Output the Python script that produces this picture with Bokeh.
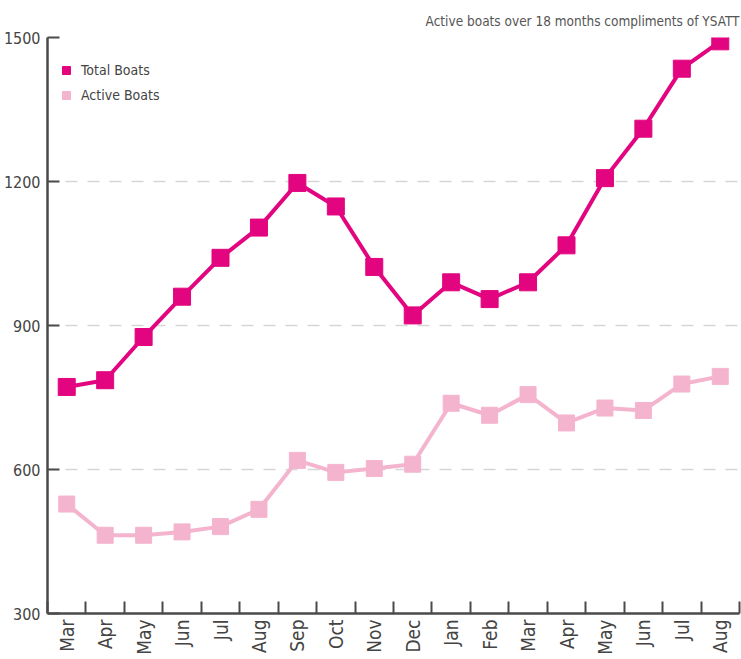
from bokeh.plotting import figure
from bokeh.models import FixedTicker, Range1d, Legend, LegendItem, ColumnDataSource
from bokeh.embed import file_html
from bokeh.resources import INLINE
import math

months = ["Mar", "Apr", "May", "Jun", "Jul", "Aug", "Sep", "Oct", "Nov", "Dec",
          "Jan", "Feb", "Mar", "Apr", "May", "Jun", "Jul", "Aug"]
total_boats = [772, 786, 876, 960, 1041, 1104, 1197, 1148, 1022, 921,
               990, 955, 990, 1067, 1207, 1310, 1435, 1492]
active_boats = [528, 463, 463, 470, 481, 517, 619, 594, 602, 611,
                738, 713, 756, 697, 728, 723, 778, 794]
y_ticks = [300, 600, 900, 1200, 1500]
title_text = "Active boats over 18 months compliments of YSATT"

FONT = "'DejaVu Sans Condensed', 'Roboto', sans-serif"
TOTAL_C = "#e2057f"
ACTIVE_C = "#f4b4cd"
AXIS_C = "#4a4a4a"
TEXT_C = "#444444"

xs = [i + 0.5 for i in range(len(months))]
src = ColumnDataSource(dict(x=xs, total=total_boats, active=active_boats))

p = figure(width=741, height=659, output_backend="svg", toolbar_location=None,
           x_range=Range1d(0, 18), y_range=Range1d(300, 1500),
           min_border_left=47, min_border_right=2, min_border_top=37,
           min_border_bottom=46)
p.outline_line_color = None
p.background_fill_color = "white"
p.border_fill_color = "white"

p.title.text = title_text
p.title.align = "right"
p.title.text_font = FONT
p.title.text_font_size = "13.5px"
p.title.text_font_style = "normal"
p.title.text_color = "#555555"
p.title.offset = 0
p.title.standoff = 18

# lines and markers
p.line("x", "active", source=src, line_color=ACTIVE_C, line_width=4)
p.scatter("x", "active", source=src, marker="square", size=16,
          fill_color=ACTIVE_C, line_color=ACTIVE_C)
p.line("x", "total", source=src, line_color=TOTAL_C, line_width=4)
p.scatter("x", "total", source=src, marker="square", size=17,
          fill_color=TOTAL_C, line_color=TOTAL_C)

# legend with small square swatches
leg_total = p.scatter(x=[float("nan")], y=[float("nan")], marker="square",
                      fill_color=TOTAL_C, line_color=TOTAL_C)
leg_active = p.scatter(x=[float("nan")], y=[float("nan")], marker="square",
                       fill_color=ACTIVE_C, line_color=ACTIVE_C)
legend = Legend(items=[LegendItem(label="Total Boats", renderers=[leg_total]),
                       LegendItem(label="Active Boats", renderers=[leg_active])],
                location=(9, 508))
legend.margin = 0
legend.padding = 5
legend.spacing = 5
legend.glyph_width = 20
legend.glyph_height = 20
legend.label_standoff = 5
legend.label_text_font = FONT
legend.label_text_font_size = "14px"
legend.label_text_color = TEXT_C
legend.border_line_color = None
legend.background_fill_alpha = 0
p.add_layout(legend, "center")

# x axis: labels at category centers, ticks at category boundaries
p.xaxis.ticker = FixedTicker(ticks=xs, minor_ticks=list(range(0, 19)))
p.xaxis.major_label_overrides = {x: m for x, m in zip(xs, months)}
p.xaxis.major_label_orientation = math.pi / 2
p.xaxis.major_tick_line_color = None
p.xaxis.major_tick_in = 0
p.xaxis.major_tick_out = 0
p.xaxis.minor_tick_in = 12
p.xaxis.minor_tick_out = 0
p.xaxis.minor_tick_line_color = AXIS_C
p.xaxis.minor_tick_line_width = 2
p.xaxis.axis_line_color = AXIS_C
p.xaxis.axis_line_width = 2.5
p.xaxis.major_label_text_font = FONT
p.xaxis.major_label_text_font_size = "19px"
p.xaxis.major_label_text_color = TEXT_C
p.xaxis.major_label_standoff = 6

# y axis
p.yaxis.ticker = FixedTicker(ticks=y_ticks)
p.yaxis.minor_tick_line_color = None
p.yaxis.major_tick_in = 12
p.yaxis.major_tick_out = 0
p.yaxis.major_tick_line_color = AXIS_C
p.yaxis.major_tick_line_width = 2
p.yaxis.axis_line_color = AXIS_C
p.yaxis.axis_line_width = 2.5
p.yaxis.major_label_text_font = FONT
p.yaxis.major_label_text_font_size = "16px"
p.yaxis.major_label_text_color = TEXT_C
p.yaxis.major_label_standoff = 7

p.xgrid.grid_line_color = None
p.ygrid.ticker = FixedTicker(ticks=y_ticks[1:])
p.ygrid.grid_line_color = "#d6d6d6"
p.ygrid.grid_line_width = 1.5
p.ygrid.grid_line_dash = "12 10"
p.ygrid.grid_line_dash_offset = -18

open("out.html", "w").write(file_html(p, INLINE))
